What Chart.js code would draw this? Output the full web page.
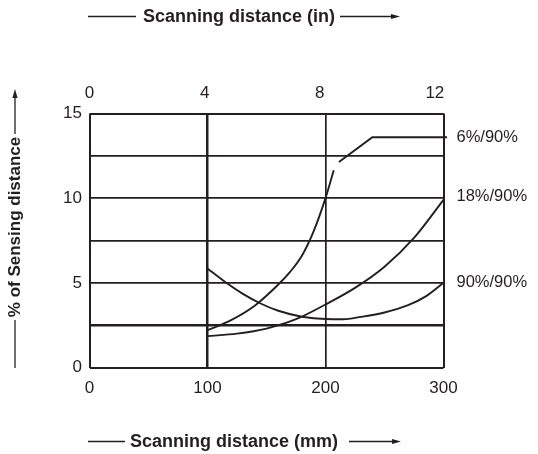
<!DOCTYPE html>
<html>
<head>
<meta charset="utf-8">
<script src="https://cdn.jsdelivr.net/npm/chart.js@4/dist/chart.umd.min.js"></script>
<style>
    body { margin: 0; background: #fff; }
    #wrap { width: 538px; height: 454px; position: relative; }
</style>
</head>
<body>
<div id="wrap"><canvas id="sensChart"></canvas></div>
<script>
// curve data (x in mm, y in % of sensing distance)
const mm6 = [100, 120, 140, 160, 170, 180, 190, 200, 207];
const pct6 = [2.2, 2.8, 3.65, 4.9, 5.65, 6.6, 8.05, 10.0, 11.65];

const mm18 = [100, 125, 150, 175, 200, 225, 250, 275, 300];
const pct18 = [1.85, 2.0, 2.3, 2.85, 3.72, 4.7, 5.95, 7.65, 9.9];

const mm90 = [100, 115, 130, 145, 160, 180, 200, 215, 230, 250, 270, 285, 300];
const pct90 = [5.85, 5.05, 4.35, 3.78, 3.35, 3.0, 2.86, 2.85, 2.99, 3.25, 3.68, 4.2, 5.0];

// leader line from the 6% curve to its label
const leaderMm = [211.4, 239.7, 303];
const leaderPct = [12.14, 13.6, 13.6];

const curveLabels = ['6%/90%', '18%/90%', '90%/90%'];
const labelPct = [13.6, 10.1, 5.0];

const mmTicks = [0, 100, 200, 300];
const inchTicks = [0, 4, 8, 12];
const pctTicks = [0, 2.5, 5, 7.5, 10, 12.5, 15];

const ink = '#231f20';
const font = 'Arial, "Liberation Sans", sans-serif';

const toPoints = (xs, ys) => xs.map((x, i) => ({ x: x, y: ys[i] }));

function arrowLine(ctx, x1, y1, x2, y2) {
    // straight line ending in a small filled arrowhead at (x2, y2)
    const ang = Math.atan2(y2 - y1, x2 - x1);
    const len = 9, half = 2.6;
    ctx.beginPath();
    ctx.moveTo(x1, y1);
    ctx.lineTo(x2 - len * Math.cos(ang), y2 - len * Math.sin(ang));
    ctx.stroke();
    ctx.beginPath();
    ctx.moveTo(x2, y2);
    ctx.lineTo(x2 - len * Math.cos(ang) + half * Math.sin(ang), y2 - len * Math.sin(ang) - half * Math.cos(ang));
    ctx.lineTo(x2 - len * Math.cos(ang) - half * Math.sin(ang), y2 - len * Math.sin(ang) + half * Math.cos(ang));
    ctx.closePath();
    ctx.fill();
}

function plainLine(ctx, x1, y1, x2, y2) {
    ctx.beginPath();
    ctx.moveTo(x1, y1);
    ctx.lineTo(x2, y2);
    ctx.stroke();
}

const decorPlugin = {
    id: 'decor',
    afterDraw(chart) {
        const ctx = chart.ctx;
        const xs = chart.scales.x;
        const ys = chart.scales.y;
        ctx.save();
        ctx.strokeStyle = ink;
        ctx.fillStyle = ink;
        ctx.lineWidth = 1.3;

        // curve labels to the right of the frame
        ctx.font = '16.5px ' + font;
        ctx.textAlign = 'left';
        ctx.textBaseline = 'middle';
        curveLabels.forEach((txt, i) => {
            ctx.fillText(txt, xs.getPixelForValue(300) + 13, ys.getPixelForValue(labelPct[i]));
        });

        // axis titles with their arrows
        ctx.font = 'bold 18px ' + font;
        ctx.textAlign = 'center';
        ctx.fillText('Scanning distance (in)', 239, 17);
        plainLine(ctx, 88, 16.5, 136, 16.5);
        arrowLine(ctx, 340, 16.5, 400, 16.5);

        ctx.fillText('Scanning distance (mm)', 234, 442);
        plainLine(ctx, 88, 441.5, 125, 441.5);
        arrowLine(ctx, 349, 441.5, 401, 441.5);

        ctx.font = 'bold 17px ' + font;
        ctx.save();
        ctx.translate(15, 227);
        ctx.rotate(-Math.PI / 2);
        ctx.fillText('% of Sensing distance', 0, 0);
        ctx.restore();
        arrowLine(ctx, 15, 134, 15, 89);
        plainLine(ctx, 15, 320, 15, 368);

        ctx.restore();
    }
};

const lineStyle = {
    borderColor: ink,
    borderWidth: 1.9,
    pointRadius: 0,
    fill: false,
    cubicInterpolationMode: 'monotone',
    clip: false
};

const gridWidth = (value) => {
    if (value === 0 || value === 300 || value === 15) return 2;
    if (value === 100 || value === 2.5) return 2.5;
    return 1.7;
};

const tickFont = { family: font, size: 17 };

new Chart(document.getElementById('sensChart'), {
    type: 'line',
    data: {
        datasets: [
            Object.assign({ label: '6%/90%', data: toPoints(mm6, pct6) }, lineStyle),
            Object.assign({ label: '18%/90%', data: toPoints(mm18, pct18) }, lineStyle),
            Object.assign({ label: '90%/90%', data: toPoints(mm90, pct90) }, lineStyle),
            Object.assign({ label: 'leader', data: toPoints(leaderMm, leaderPct) }, lineStyle, { cubicInterpolationMode: 'default', tension: 0, borderWidth: 2 })
        ]
    },
    options: {
        responsive: true,
        maintainAspectRatio: false,
        animation: false,
        layout: { padding: { left: 0, right: 94.5, top: 0, bottom: 0 } },
        plugins: {
            legend: { display: false },
            tooltip: { enabled: false }
        },
        scales: {
            x: {
                type: 'linear',
                position: 'bottom',
                min: 0,
                max: 300,
                afterBuildTicks: (s) => { s.ticks = mmTicks.map(v => ({ value: v })); },
                afterFit: (s) => { s.height = 86.5; },
                border: { display: false },
                grid: {
                    color: ink,
                    drawTicks: false,
                    lineWidth: (c) => gridWidth(c.tick.value)
                },
                ticks: {
                    padding: 11,
                    color: ink,
                    font: tickFont,
                    maxRotation: 0
                }
            },
            xIn: {
                type: 'linear',
                position: 'top',
                min: 0,
                max: 12.3,
                afterBuildTicks: (s) => { s.ticks = inchTicks.map(v => ({ value: v })); },
                afterFit: (s) => { s.height = 113.5; },
                border: { display: false },
                grid: { display: false, drawTicks: false },
                ticks: {
                    padding: 9.5,
                    color: ink,
                    font: tickFont,
                    maxRotation: 0
                }
            },
            y: {
                type: 'linear',
                min: 0,
                max: 15,
                afterBuildTicks: (s) => { s.ticks = pctTicks.map(v => ({ value: v })); },
                afterFit: (s) => { s.width = 89.5; },
                border: { display: false },
                grid: {
                    color: ink,
                    drawTicks: false,
                    lineWidth: (c) => gridWidth(c.tick.value)
                },
                ticks: {
                    padding: 7.5,
                    color: ink,
                    font: tickFont,
                    callback: (v) => (v % 5 === 0 ? String(v) : '')
                }
            }
        }
    },
    plugins: [decorPlugin]
});
</script>
</body>
</html>
